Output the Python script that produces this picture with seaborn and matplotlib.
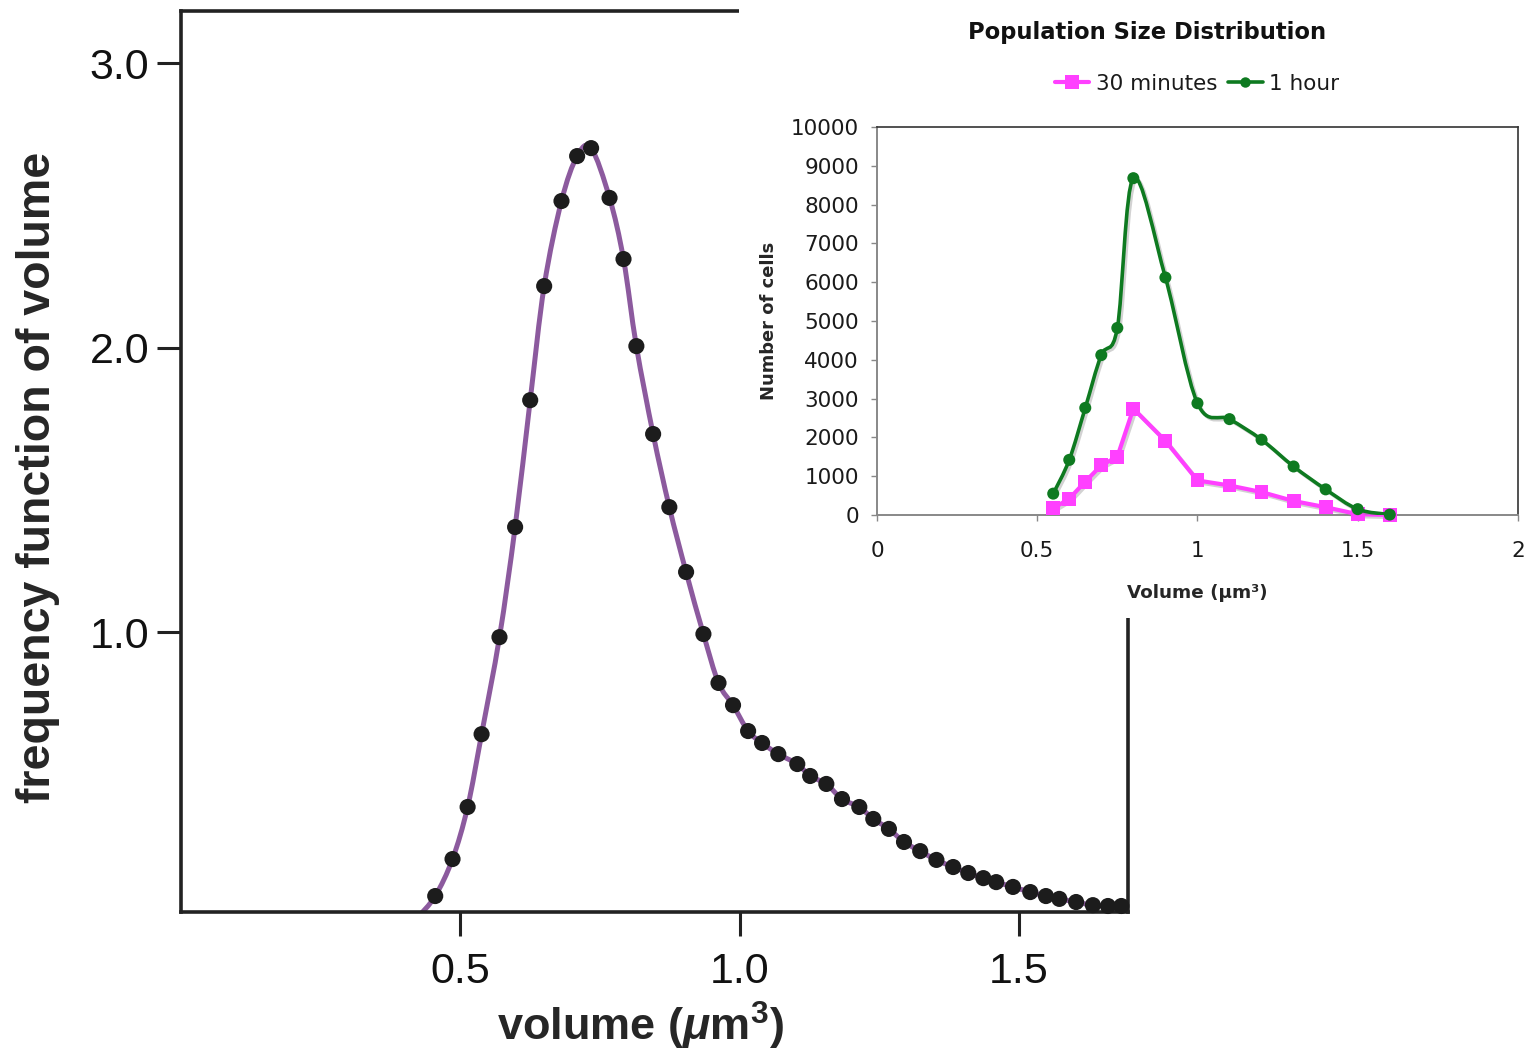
import numpy as np
import matplotlib
matplotlib.use("Agg")
import matplotlib.pyplot as plt
import matplotlib.patheffects as pe
from matplotlib.path import Path
from matplotlib.patches import PathPatch
from matplotlib.lines import Line2D
import seaborn as sns

# main panel: measured frequency function of volume (dots) + fitted curve
vol_dots = [0.455, 0.486, 0.513, 0.538, 0.570, 0.598, 0.625, 0.650, 0.681, 0.709,
            0.734, 0.767, 0.792, 0.815, 0.845, 0.874, 0.904, 0.935, 0.962, 0.988,
            1.015, 1.040, 1.069, 1.103, 1.126, 1.155, 1.183, 1.214, 1.239, 1.267,
            1.294, 1.323, 1.352, 1.382, 1.409, 1.436, 1.459, 1.489, 1.520, 1.548,
            1.572, 1.602, 1.632, 1.659, 1.683]
freq_dots = [0.072, 0.202, 0.385, 0.641, 0.982, 1.369, 1.815, 2.216, 2.515, 2.673,
             2.701, 2.526, 2.311, 2.005, 1.696, 1.439, 1.211, 0.993, 0.821, 0.743,
             0.652, 0.610, 0.571, 0.536, 0.494, 0.466, 0.413, 0.385, 0.343, 0.308,
             0.262, 0.230, 0.199, 0.174, 0.153, 0.135, 0.121, 0.104, 0.086, 0.072,
             0.062, 0.051, 0.040, 0.037, 0.037]
curve_start = (0.425, 0.0)
curve_end = (1.70, 0.034)

# inset: population size distribution
vol_inset = [0.55, 0.6, 0.65, 0.7, 0.75, 0.8, 0.9, 1.0, 1.1, 1.2, 1.3, 1.4, 1.5, 1.6]
cells_30min = [170, 420, 860, 1280, 1500, 2740, 1910, 890, 760, 590, 360, 200, 20, 0]
cells_1hour = [550, 1420, 2760, 4120, 4820, 8680, 6120, 2880, 2470, 1940, 1250, 660, 150, 10]

purple = "#8c5a9e"
magenta = "#ff40ff"
green = "#0e7a20"


def smooth_path(x, y):
    # catmull-rom style smoothed line through the points (like excel's smoothed line)
    pts = np.column_stack([x, y]).astype(float)
    verts = [pts[0]]
    codes = [Path.MOVETO]
    n = len(pts)
    for i in range(n - 1):
        p0 = pts[i - 1] if i > 0 else pts[i]
        p1, p2 = pts[i], pts[i + 1]
        p3 = pts[i + 2] if i + 2 < n else pts[i + 1]
        verts += [p1 + (p2 - p0) / 6, p2 - (p3 - p1) / 6, p2]
        codes += [Path.CURVE4] * 3
    return Path(verts, codes)


sns.set_style("ticks")
plt.rcParams["font.family"] = ["Liberation Sans", "DejaVu Sans"]
plt.rcParams["mathtext.fontset"] = "custom"
plt.rcParams["mathtext.rm"] = "Liberation Sans:bold"
plt.rcParams["mathtext.bf"] = "Liberation Sans:bold"
plt.rcParams["mathtext.it"] = "Liberation Sans:italic:bold"

fig = plt.figure(figsize=(15.35, 10.57), dpi=100)

# ---------------- main panel ----------------
ax = fig.add_axes([0.1179, 0.1372, 0.617, 0.8524])
cx = [curve_start[0]] + vol_dots + [curve_end[0]]
cy = [curve_start[1]] + freq_dots + [curve_end[1]]
ax.add_patch(PathPatch(smooth_path(cx, cy), facecolor="none", edgecolor=purple,
                       lw=3.6, zorder=2, capstyle="round"))
sns.scatterplot(x=vol_dots, y=freq_dots, s=135, color="#1c1c1c", edgecolor="none",
                ax=ax, zorder=3, clip_on=False)

ax.set_xlim(0, 1.695)
ax.set_ylim(0.016, 3.183)
ax.set_xticks([0.5, 1.0, 1.5])
ax.set_xticklabels(["0.5", "1.0", "1.5"])
ax.set_yticks([1.0, 2.0, 3.0])
ax.set_yticklabels(["1.0", "2.0", "3.0"])
ax.tick_params(direction="out", length=17, width=2.2, color="#222222",
               labelsize=31, labelcolor="#111111")
ax.tick_params(axis="x", pad=12)
ax.tick_params(axis="y", pad=6)
for sp in ax.spines.values():
    sp.set_visible(True)
    sp.set_linewidth(2.6)
    sp.set_color("#222222")

ax.set_ylabel("frequency function of volume", fontsize=33.5, fontweight="bold")
ax.yaxis.set_label_coords(-0.128, 0.482)
ax.set_xlabel(r"volume ($\mu$m$^{\mathbf{3}}$)", fontsize=32.5, fontweight="bold")
ax.xaxis.set_label_coords(0.485, -0.098)

# ---------------- inset ----------------
bg = fig.add_axes([739 / 1535, 1 - 618 / 1057, 796 / 1535, 618 / 1057])
bg.set_facecolor("white")
bg.set_xticks([])
bg.set_yticks([])
for sp in bg.spines.values():
    sp.set_visible(False)

axi = fig.add_axes([0.5713, 0.5128, 0.4176, 0.3671])
shadow = [pe.SimpleLineShadow(offset=(1.5, -1.5), shadow_color="gray", alpha=0.35), pe.Normal()]
sns.lineplot(x=vol_inset, y=cells_30min, color=magenta, lw=3, marker="s",
             markersize=10, markeredgewidth=0, ax=axi, zorder=3,
             path_effects=shadow, clip_on=False)
axi.add_patch(PathPatch(smooth_path(vol_inset, cells_1hour), facecolor="none",
                        edgecolor=green, lw=2.6, zorder=4, path_effects=shadow))
sns.scatterplot(x=vol_inset, y=cells_1hour, s=75, color=green, edgecolor="none",
                ax=axi, zorder=5, clip_on=False)

axi.set_xlim(0, 2)
axi.set_ylim(0, 10000)
axi.set_xticks([0, 0.5, 1, 1.5, 2])
axi.set_xticklabels(["0", "0.5", "1", "1.5", "2"])
axi.set_yticks(range(0, 10001, 1000))
axi.set_yticklabels([str(v) for v in range(0, 10001, 1000)])
for lab in axi.get_xticklabels() + axi.get_yticklabels():
    lab.set_family("DejaVu Sans")
axi.tick_params(direction="out", length=4, width=1, color="#888888",
                labelsize=15.5, labelcolor="#1a1a1a")
axi.tick_params(axis="x", pad=15)
axi.tick_params(axis="y", pad=9)
for side in ["left", "bottom"]:
    axi.spines[side].set_color("#888888")
    axi.spines[side].set_linewidth(1.4)
for side in ["top", "right"]:
    axi.spines[side].set_visible(True)
    axi.spines[side].set_color("#333333")
    axi.spines[side].set_linewidth(1.2)

axi.set_ylabel("Number of cells", fontsize=12.9, fontweight="bold", family="DejaVu Sans")
axi.yaxis.set_label_coords(-0.154, 0.5)
axi.set_xlabel("Volume (μm³)", fontsize=13.2, fontweight="bold", family="DejaVu Sans")
axi.xaxis.set_label_coords(0.5, -0.178)

fig.text(1147 / 1535, 1 - 32 / 1057, "Population Size Distribution", ha="center",
         va="center", fontsize=16.3, fontweight="bold", family="DejaVu Sans",
         color="#111111")

handles = [Line2D([], [], color=magenta, lw=3, marker="s", markersize=10, markeredgewidth=0),
           Line2D([], [], color=green, lw=2.6, marker="o", markersize=7.5, markeredgewidth=0)]
leg = axi.legend(handles, ["30 minutes", "1 hour"], loc="center",
                 bbox_to_anchor=(1197 / 1535, 1 - 84 / 1057), bbox_transform=fig.transFigure,
                 ncol=2, frameon=False, handlelength=1.6, handletextpad=0.3,
                 columnspacing=0.5, prop={"family": "DejaVu Sans", "size": 15.5})
for t in leg.get_texts():
    t.set_color("#1a1a1a")

fig.savefig("out.png", dpi=100)
